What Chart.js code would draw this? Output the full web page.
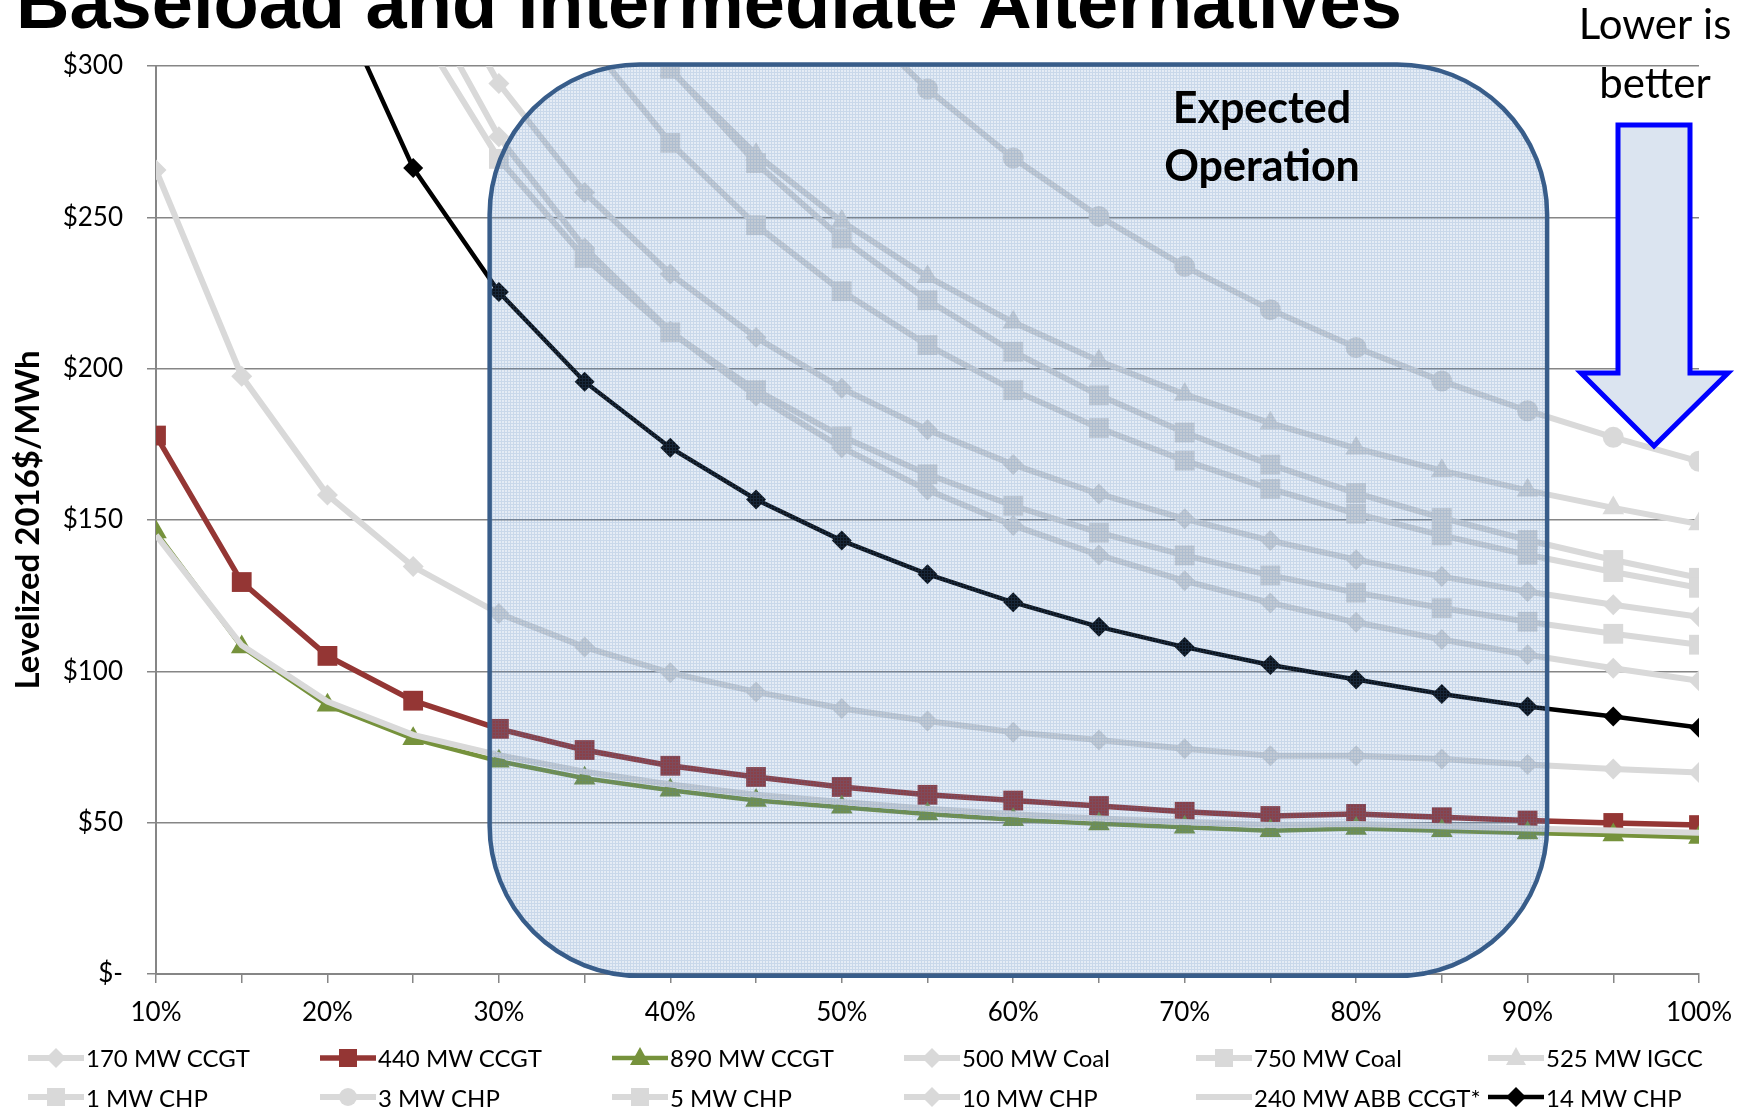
<!DOCTYPE html>
<html>
<head>
<meta charset="utf-8">
<script src="https://cdn.jsdelivr.net/npm/chart.js@4.4.1/dist/chart.umd.min.js"></script>
<style>
  html, body { margin: 0; padding: 0; background: #fff; }
  #wrap { position: relative; width: 1756px; height: 1114px; overflow: hidden; }
  #legend {
    position: absolute; left: 28px; top: 1038px;
    display: grid; grid-template-columns: repeat(6, 292px);
    font-family: Lato, sans-serif; font-size: 24px; color: #000;
  }
  .item { display: flex; align-items: center; height: 39.5px; }
  .item svg { flex: none; }
  .item span { margin-left: 2px; white-space: nowrap; }
</style>
</head>
<body>
<div id="wrap">
  <canvas id="lcoeChart" width="1756" height="1114"></canvas>
  <div id="legend"></div>
</div>
<script>
// capacity factor (%) and y ticks
const loadFactors = [10, 15, 20, 25, 30, 35, 40, 45, 50, 55, 60, 65, 70, 75, 80, 85, 90, 95, 100];
const yTickValues = [0, 50, 100, 150, 200, 250, 300];

const seriesNames = ['170 MW CCGT', '440 MW CCGT', '890 MW CCGT', '500 MW Coal', '750 MW Coal', '525 MW IGCC',
                     '1 MW CHP', '3 MW CHP', '5 MW CHP', '10 MW CHP', '240 MW ABB CCGT*', '14 MW CHP'];

// levelized cost, 2016$/MWh (values above $300 run off the top of the plot)
const ccgt170 = [265.6, 197.5, 158.3, 134.6, 119.1, 108.0, 99.5, 93.2, 87.7, 83.6, 79.9, 77.3, 74.4, 72.1, 72.1, 71.0, 69.2, 67.7, 66.6];
const ccgt440 = [177.9, 129.5, 105.1, 90.3, 81.0, 74.0, 68.8, 65.1, 61.8, 59.2, 57.3, 55.5, 53.6, 52.2, 52.9, 51.8, 50.7, 49.9, 49.2];
const ccgt890 = [146.0, 108.0, 88.8, 77.7, 70.3, 64.7, 60.7, 57.3, 55.1, 52.9, 51.0, 49.6, 48.5, 47.3, 48.1, 47.3, 46.6, 45.9, 45.1];
const coal500 = [789.9, 533.2, 404.9, 327.9, 276.6, 239.9, 212.4, 191.0, 173.9, 159.9, 148.2, 138.4, 129.9, 122.6, 116.2, 110.5, 105.5, 101.0, 96.9];
const coal750 = [728.0, 498.7, 384.0, 315.2, 269.3, 236.6, 212.0, 192.9, 177.6, 165.1, 154.7, 145.8, 138.3, 131.7, 126.0, 120.9, 116.4, 112.4, 108.8];
const igcc525 = [1048.0, 714.8, 548.3, 448.4, 381.8, 334.2, 298.6, 270.8, 248.6, 230.4, 215.3, 202.5, 191.5, 182.0, 173.7, 166.3, 159.8, 154.0, 148.7];
const chp1 = [1139.8, 766.0, 579.3, 467.2, 392.5, 339.1, 299.1, 267.9, 243.0, 222.6, 205.6, 191.2, 178.9, 168.3, 158.9, 150.7, 143.4, 136.8, 130.9];
const chp3 = [1522.1, 1021.1, 770.6, 620.3, 520.1, 448.5, 394.9, 353.1, 319.7, 292.4, 269.6, 250.3, 233.8, 219.5, 207.0, 195.9, 186.1, 177.3, 169.4];
const chp5 = [1009.6, 683.0, 519.6, 421.6, 356.3, 309.6, 274.6, 247.4, 225.6, 207.8, 192.9, 180.4, 169.6, 160.3, 152.1, 144.9, 138.5, 132.8, 127.6];
const chp10 = [797.5, 545.8, 420.0, 344.5, 294.2, 258.2, 231.3, 210.3, 193.5, 179.8, 168.3, 158.6, 150.4, 143.2, 136.9, 131.3, 126.4, 122.0, 118.0];
const abb240 = [145.0, 108.6, 90.0, 79.0, 72.3, 66.8, 62.6, 59.2, 56.8, 54.6, 52.8, 51.4, 50.2, 49.2, 49.6, 48.8, 48.1, 47.4, 46.7];
const chp14 = [637.6, 431.6, 328.6, 266.3, 225.3, 195.7, 173.9, 156.8, 143.2, 132.1, 122.8, 114.7, 108.0, 102.1, 97.3, 92.5, 88.4, 85.1, 81.4];

const seriesValues = [ccgt170, ccgt440, ccgt890, coal500, coal750, igcc525, chp1, chp3, chp5, chp10, abb240, chp14];

const GREY = '#d9d9d9';
const seriesStyles = [
    { color: GREY, point: 'rectRot', r: 10.5, w: 6 },
    { color: '#943634', point: 'rect', r: 14, w: 5.5 },
    { color: '#76923c', point: 'triangle', r: 12.5, w: 4.5 },
    { color: GREY, point: 'rectRot', r: 10.5, w: 6 },
    { color: GREY, point: 'rect', r: 14, w: 6 },
    { color: GREY, point: 'triangle', r: 12.5, w: 6 },
    { color: GREY, point: 'rect', r: 14, w: 6 },
    { color: GREY, point: 'circle', r: 10.5, w: 6 },
    { color: GREY, point: 'rect', r: 14, w: 6 },
    { color: GREY, point: 'rectRot', r: 10.5, w: 6 },
    { color: GREY, point: false, r: 0, w: 6 },
    { color: '#000000', point: 'rectRot', r: 10, w: 4.5 }
];

Chart.defaults.font.family = 'Lato, sans-serif';
Chart.defaults.color = '#000';

const datasets = seriesNames.map((name, i) => {
    const st = seriesStyles[i];
    return {
        label: name,
        data: loadFactors.map((x, j) => ({ x: x, y: seriesValues[i][j] })),
        borderColor: st.color,
        backgroundColor: st.color,
        borderWidth: st.w,
        pointStyle: st.point || 'circle',
        pointRadius: st.r,
        pointBorderWidth: 0,
        pointBackgroundColor: st.color,
        tension: 0,
        order: seriesNames.length - i   // later series on top, like the original
    };
});

// "Expected Operation" box, arrow and free text
const decorPlugin = {
    id: 'decor',
    afterDatasetsDraw(chart) {
        const ctx = chart.ctx;
        const xs = chart.scales.x, ys = chart.scales.y;
        const left = xs.getPixelForValue(29.46), right = xs.getPixelForValue(91.14);
        const top = ys.getPixelForValue(300.5), bottom = ys.getPixelForValue(-0.6);
        const rad = 150;

        const tile = document.createElement('canvas');
        tile.width = 3; tile.height = 3;
        const t = tile.getContext('2d');
        t.fillStyle = 'rgba(79,129,189,0.15)';
        t.fillRect(0, 0, 3, 3);
        t.fillStyle = 'rgba(79,129,189,0.18)';
        t.fillRect(0, 0, 3, 1);
        t.fillRect(0, 1, 1, 2);

        ctx.save();
        ctx.beginPath();
        ctx.moveTo(left + rad, top);
        ctx.arcTo(right, top, right, bottom, rad);
        ctx.arcTo(right, bottom, left, bottom, rad);
        ctx.arcTo(left, bottom, left, top, rad);
        ctx.arcTo(left, top, right, top, rad);
        ctx.closePath();
        ctx.fillStyle = ctx.createPattern(tile, 'repeat');
        ctx.fill();
        ctx.lineWidth = 4.5;
        ctx.strokeStyle = '#385d8a';
        ctx.stroke();

        ctx.fillStyle = '#000';
        ctx.textAlign = 'center';
        ctx.textBaseline = 'middle';
        ctx.font = 'bold 43px Lato, sans-serif';
        ctx.fillText('Expected', 1262, 109);
        ctx.fillText('Operation', 1262, 167);
        ctx.restore();
    },
    afterDraw(chart) {
        const ctx = chart.ctx;
        ctx.save();
        // title, cut at the top edge as in the slide
        ctx.fillStyle = '#000';
        ctx.textAlign = 'left';
        ctx.textBaseline = 'alphabetic';
        ctx.font = 'bold 74px "Liberation Sans", Arial, sans-serif';
        ctx.fillText('Baseload and Intermediate Alternatives', 16, 28);

        // y axis title
        ctx.save();
        ctx.translate(28, (chart.chartArea.top + chart.chartArea.bottom) / 2);
        ctx.rotate(-Math.PI / 2);
        ctx.textAlign = 'center';
        ctx.textBaseline = 'middle';
        ctx.font = 'bold 33px Lato, sans-serif';
        ctx.fillText('Levelized 2016$/MWh', 0, 0);
        ctx.restore();

        // "Lower is better"
        ctx.textAlign = 'center';
        ctx.textBaseline = 'middle';
        ctx.font = '42px Lato, sans-serif';
        ctx.fillText('Lower is', 1655, 25);
        ctx.fillText('better', 1655, 84);

        // down arrow
        ctx.beginPath();
        ctx.moveTo(1618, 125);
        ctx.lineTo(1690, 125);
        ctx.lineTo(1690, 373);
        ctx.lineTo(1728, 373);
        ctx.lineTo(1654, 446);
        ctx.lineTo(1581, 373);
        ctx.lineTo(1618, 373);
        ctx.closePath();
        ctx.fillStyle = '#dbe4f0';
        ctx.fill();
        ctx.lineWidth = 5;
        ctx.strokeStyle = '#0000ff';
        ctx.stroke();
        ctx.restore();
    }
};

new Chart(document.getElementById('lcoeChart'), {
    type: 'line',
    data: { datasets: datasets },
    options: {
        responsive: false,
        animation: false,
        devicePixelRatio: 1,
        layout: { padding: { top: 66, right: 57, bottom: 80, left: 0 } },
        plugins: { legend: { display: false }, tooltip: { enabled: false } },
        scales: {
            x: {
                type: 'linear', min: 10, max: 100,
                afterBuildTicks: s => { s.ticks = loadFactors.map(v => ({ value: v })); },
                afterFit: s => { s.height = 60; },
                ticks: {
                    autoSkip: false, maxRotation: 0, padding: 14,
                    font: { size: 26 },
                    callback: v => (v % 10 === 0 ? v + '%' : '')
                },
                grid: { drawOnChartArea: false, color: '#868686', lineWidth: 1.5, tickLength: 9 },
                border: { color: '#868686', width: 2 }
            },
            y: {
                min: 0, max: 300,
                afterBuildTicks: s => { s.ticks = yTickValues.map(v => ({ value: v })); },
                afterFit: s => { s.width = 156; },
                ticks: {
                    padding: 24,
                    font: { size: 26 },
                    callback: v => (v === 0 ? '$-' : '$' + v)
                },
                grid: { color: '#868686', lineWidth: 1.5, tickLength: 9 },
                border: { color: '#868686', width: 2 }
            }
        }
    },
    plugins: [decorPlugin]
});

// legend laid out in the same 6 x 2 grid as the original
function legendIcon(st) {
    const c = st.color;
    let mark = '';
    if (st.point === 'rectRot') mark = `<polygon points="28,3 38,13 28,23 18,13" fill="${c}"/>`;
    else if (st.point === 'rect') mark = `<rect x="19" y="4" width="18" height="18" fill="${c}"/>`;
    else if (st.point === 'triangle') mark = `<polygon points="28,2 38,20 18,20" fill="${c}"/>`;
    else if (st.point === 'circle') mark = `<circle cx="28" cy="13" r="9" fill="${c}"/>`;
    return `<svg width="56" height="26" viewBox="0 0 56 26">` +
           `<line x1="0" y1="13" x2="56" y2="13" stroke="${c}" stroke-width="${st.w}" stroke-linecap="round"/>` +
           mark + `</svg>`;
}
document.getElementById('legend').innerHTML = seriesNames.map((name, i) =>
    `<div class="item">${legendIcon(seriesStyles[i])}<span>${name}</span></div>`
).join('');
</script>
</body>
</html>
